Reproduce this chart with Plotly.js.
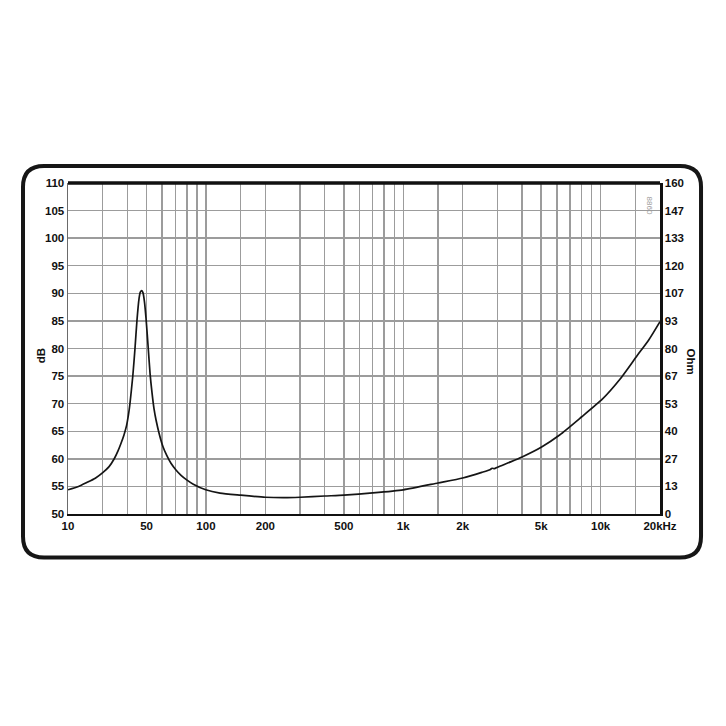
<!DOCTYPE html>
<html>
<head>
<meta charset="utf-8">
<script src="https://cdn.plot.ly/plotly-3.0.1.min.js"></script>
<style>
  html, body { margin: 0; padding: 0; background: #ffffff; }
  #chart { width: 726px; height: 726px; }
</style>
</head>
<body>
<div id="chart"></div>
<script>
// Impedance curve (frequency in Hz, impedance in Ohm)
const freqHz = [20, 22.6, 24.9, 27.5, 30, 32.3, 34.3, 35.8, 37.1, 38.4, 39.6, 40.5, 41.2, 42.6, 43.7, 44.7, 45.8, 46.5, 47.3, 48.0, 48.8, 49.7, 50.9, 52.1, 53.3, 54.6, 55.9, 58.0, 60.6, 63.3, 66.5, 70.5, 74.8, 79.9, 86.3, 99.8, 117.9, 150, 200, 250, 300, 400, 500, 700, 1000, 1500, 2000, 2500, 2750, 2820, 2900, 3000, 3500, 4000, 5000, 6200, 8000, 10200, 12500, 15300, 17500, 20000];
const impedanceOhm = [11.7, 13.3, 15.2, 17.3, 20.0, 22.9, 26.7, 30.4, 34.1, 38.1, 42.7, 48.0, 53.3, 66.7, 80.0, 93.3, 104.0, 107.2, 108.0, 106.9, 102.7, 94.7, 81.3, 68.0, 58.7, 50.7, 45.3, 38.7, 32.5, 28.3, 24.5, 21.3, 18.7, 16.5, 14.4, 11.7, 10.1, 9.1, 8.1, 7.9, 8.1, 8.7, 9.1, 10.2, 11.7, 15.0, 17.4, 20.1, 21.4, 22.1, 21.9, 22.6, 25.2, 27.6, 32.3, 38.2, 46.9, 55.5, 65.0, 76.5, 84.0, 93.0];

// Axis ticks / gridlines
const xGridVals = [20, 30, 40, 50, 60, 70, 80, 90, 100, 150, 200, 300, 400, 500, 600, 700, 800, 900, 1000, 1500, 2000, 3000, 4000, 5000, 6000, 7000, 8000, 9000, 10000, 15000, 20000];
const xGridText = ["10", "", "", "50", "", "", "", "", "100", "", "200", "", "", "500", "", "", "", "", "1k", "", "2k", "", "", "5k", "", "", "", "", "10k", "", "20kHz"];
const dbTickVals = [50, 55, 60, 65, 70, 75, 80, 85, 90, 95, 100, 105, 110];
const ohmTickVals = [0, 13.333, 26.667, 40, 53.333, 66.667, 80, 93.333, 106.667, 120, 133.333, 146.667, 160];
const ohmTickText = ["0", "13", "27", "40", "53", "67", "80", "93", "107", "120", "133", "147", "160"];

const tickFont = { family: "Liberation Sans, Arial, sans-serif", size: 11.5, color: "#111111", weight: "bold" };

const traces = [
  {
    x: [20, 20000], y: [null, null], xaxis: "x", yaxis: "y",
    mode: "lines", showlegend: false, hoverinfo: "skip"
  },
  {
    x: freqHz, y: impedanceOhm, xaxis: "x", yaxis: "y2",
    mode: "lines", line: { color: "#151515", width: 1.7, shape: "spline", smoothing: 0.6 },
    showlegend: false
  }
];

// rounded frame in paper coordinates
const x0 = -0.0760, x1 = 1.0693, yt = 1.0514, yb = -0.1314, rx = 0.0355, ry = 0.0634;
const framePath =
  `M ${x0 + rx},${yt} L ${x1 - rx},${yt} Q ${x1},${yt} ${x1},${yt - ry} ` +
  `L ${x1},${yb + ry} Q ${x1},${yb} ${x1 - rx},${yb} ` +
  `L ${x0 + rx},${yb} Q ${x0},${yb} ${x0},${yb + ry} ` +
  `L ${x0},${yt - ry} Q ${x0},${yt} ${x0 + rx},${yt} Z`;

const layout = {
  width: 726, height: 726,
  margin: { l: 68, r: 66, t: 183, b: 212 },
  paper_bgcolor: "#ffffff", plot_bgcolor: "#ffffff",
  showlegend: false,
  xaxis: {
    type: "log",
    range: [Math.log10(20), Math.log10(20000)],
    tickmode: "array", tickvals: xGridVals, ticktext: xGridText,
    ticks: "", tickfont: tickFont,
    showgrid: true, gridcolor: "#9c9c9c", gridwidth: 1.4,
    showline: true, linecolor: "#111111", linewidth: 2,
    zeroline: false, fixedrange: true
  },
  yaxis: {
    range: [50, 110],
    tickmode: "array", tickvals: dbTickVals,
    ticks: "", tickfont: tickFont,
    showgrid: true, gridcolor: "#9c9c9c", gridwidth: 1.4,
    showline: true, linecolor: "#6a6a6a", linewidth: 1.5,
    zeroline: false, fixedrange: true
  },
  yaxis2: {
    overlaying: "y", side: "right",
    range: [0, 160],
    tickmode: "array", tickvals: ohmTickVals, ticktext: ohmTickText,
    ticks: "", tickfont: tickFont,
    showgrid: false,
    showline: true, linecolor: "#111111", linewidth: 2.5,
    zeroline: false, fixedrange: true
  },
  shapes: [
    { type: "line", xref: "paper", yref: "paper", x0: 0, x1: 1, y0: 1, y1: 1,
      line: { color: "#111111", width: 3.5 } },
    { type: "path", xref: "paper", yref: "paper", path: framePath,
      line: { color: "#161616", width: 4 }, fillcolor: "rgba(0,0,0,0)" }
  ],
  annotations: [
    { text: "dB", xref: "paper", yref: "paper", x: -0.059, y: 0.477,
      showarrow: false, textangle: -90, font: tickFont },
    { text: "Ohm", xref: "paper", yref: "paper", x: 1.065, y: 0.459,
      showarrow: false, textangle: 90, font: tickFont },
    { text: "8860", xref: "paper", yref: "paper", x: 0.993, y: 0.964,
      showarrow: false, textangle: 90,
      font: { family: "Liberation Sans, Arial, sans-serif", size: 8, color: "#9a9a9a" } }
  ]
};

Plotly.newPlot("chart", traces, layout, { staticPlot: true, displayModeBar: false });
</script>
</body>
</html>
